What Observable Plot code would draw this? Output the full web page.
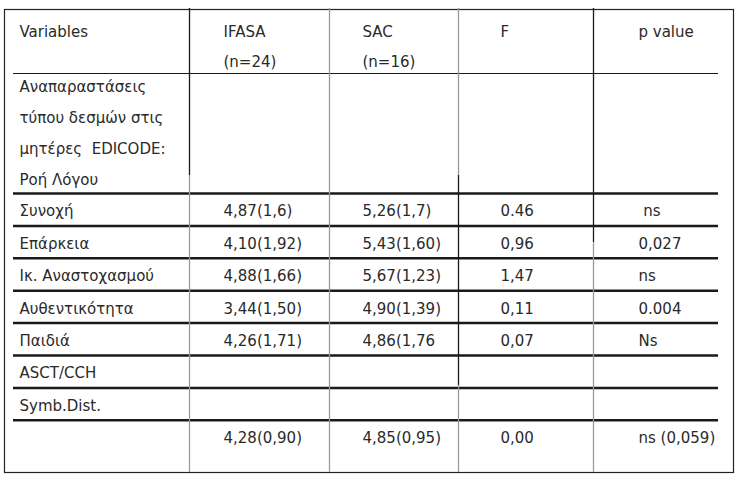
<!DOCTYPE html>
<html>
<head>
<meta charset="utf-8">
<script src="https://cdn.jsdelivr.net/npm/d3@7"></script>
<script src="https://cdn.jsdelivr.net/npm/@observablehq/plot@0.6"></script>
<style>
  html, body { margin: 0; padding: 0; background: #fff; }
  #chart svg { display: block; }
</style>
</head>
<body>
<div id="chart"></div>
<script>
// ---- Data ----
const headers = ["Variables", "IFASA\n(n=24)", "SAC\n(n=16)", "F", "p value"];
const sectionLabel = "Αναπαραστάσεις\nτύπου δεσμών στις\nμητέρες  EDICODE:\nΡοή Λόγου";
const variables = ["Συνοχή", "Επάρκεια", "Ικ. Αναστοχασμού", "Αυθεντικότητα", "Παιδιά", "ASCT/CCH", "Symb.Dist.", ""];
const ifasa = ["4,87(1,6)", "4,10(1,92)", "4,88(1,66)", "3,44(1,50)", "4,26(1,71)", "", "", "4,28(0,90)"];
const sac = ["5,26(1,7)", "5,43(1,60)", "5,67(1,23)", "4,90(1,39)", "4,86(1,76", "", "", "4,85(0,95)"];
const fValues = ["0.46", "0,96", "1,47", "0,11", "0,07", "", "", "0,00"];
const pValues = ["\u00a0ns", "0,027", "ns", "0.004", "Ns", "", "", "ns (0,059)"];

// ---- Layout (pixels) ----
const W = 742, H = 484;
const colText = [19, 223, 362, 500, 638];
const colDividers = [189, 329, 458, 593];
const headerBottom = 73, sectionBottom = 193;
const rowH = 32.4;
const lineX1 = 13, lineX2 = 718;
const rowTop = i => sectionBottom + i * rowH;

const columns = [variables, ifasa, sac, fValues, pValues];
const cells = [];
columns.forEach((col, c) => col.forEach((v, r) => {
  if (v) cells.push({x: colText[c], y: rowTop(r) + 18, text: v});
}));
headers.forEach((h, c) => h.split("\n").forEach((t, k) => {
  cells.push({x: colText[c], y: 32 + k * 30, text: t});
}));
sectionLabel.split("\n").forEach((t, k) => {
  cells.push({x: colText[0], y: 87 + k * 31, text: t});
});

const hLines = [
  {y: headerBottom, w: 1.2},
  ...variables.map((_, r) => ({y: rowTop(r), w: 2.5}))
];

const black = "#1a1a1a", gray = "#9a9a9a";
const vSegs = [
  {x: colDividers[0], y1: 8, y2: 175, c: black},
  {x: colDividers[0], y1: 175, y2: 472, c: gray},
  {x: colDividers[1], y1: 8, y2: 472, c: gray},
  {x: colDividers[2], y1: 8, y2: 175, c: gray},
  {x: colDividers[2], y1: 175, y2: 385, c: black},
  {x: colDividers[2], y1: 385, y2: 472, c: gray},
  {x: colDividers[3], y1: 8, y2: 242, c: black},
  {x: colDividers[3], y1: 242, y2: 472, c: gray}
];

const chart = Plot.plot({
  width: W,
  height: H,
  marginLeft: 4, marginRight: W - 733, marginTop: 9, marginBottom: H - 472,
  x: {type: "identity", axis: null},
  y: {type: "identity", axis: null},
  style: {fontFamily: "'DejaVu Sans', sans-serif", background: "#fff"},
  marks: [
    Plot.frame({stroke: "#222", strokeWidth: 1.2}),
    Plot.ruleY(hLines, {y: "y", x1: lineX1, x2: lineX2, stroke: black, strokeWidth: d => d.w}),
    Plot.ruleX(vSegs, {x: "x", y1: "y1", y2: "y2", stroke: d => d.c, strokeWidth: 1.3}),
    Plot.text(cells, {x: "x", y: "y", text: "text", textAnchor: "start", lineAnchor: "middle", fontSize: 15, fill: "#2a2a2a"})
  ]
});
document.getElementById("chart").appendChild(chart);
</script>
</body>
</html>
